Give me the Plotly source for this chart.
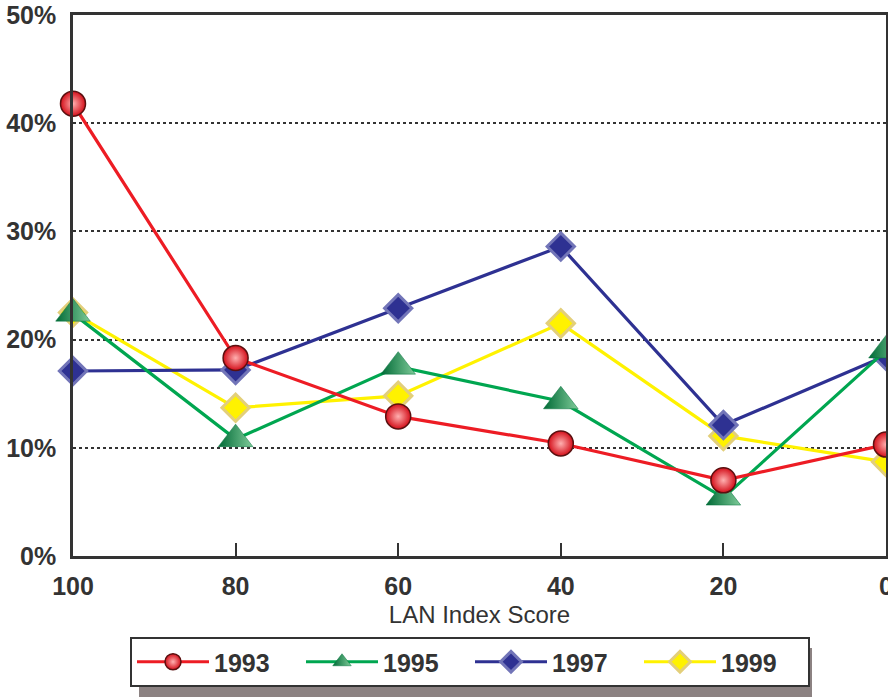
import plotly.graph_objects as go

# LAN index score buckets (x axis runs from 100 down to 0)
scores = [100, 80, 60, 40, 20, 0]

# Share of respondents in each bucket, percent
pct_1993 = [41.8, 18.3, 12.9, 10.4, 7.0, 10.3]
pct_1995 = [22.4, 10.8, 17.5, 14.3, 5.4, 19.0]
pct_1997 = [17.1, 17.2, 22.9, 28.6, 12.1, 18.5]
pct_1999 = [22.5, 13.7, 14.8, 21.5, 11.1, 8.7]

years = ["1993", "1995", "1997", "1999"]

styles = {
    "1993": dict(line="#ed1c24", symbol="circle", size=25, fill="#d40f1a",
                 grad="radial", gcol="#ffb0b0", edge="#5a1010", ew=1.5),
    "1995": dict(line="#00a650", symbol="triangle-up", size=30, fill="#006a36",
                 grad="horizontal", gcol="#7fcb99", edge="#00703a", ew=0.5),
    "1997": dict(line="#2e3192", symbol="diamond", size=21, fill="#2e3192",
                 grad="none", gcol="#2e3192", edge="#7275b8", ew=3),
    "1999": dict(line="#fff200", symbol="diamond", size=21, fill="#fff200",
                 grad="none", gcol="#fff200", edge="#e3cf7a", ew=3),
}
series = {"1993": pct_1993, "1995": pct_1995, "1997": pct_1997, "1999": pct_1999}

FONT = "Liberation Sans, Arial, sans-serif"

fig = go.Figure()
# later years first so the 1993 series sits on top
for yr in reversed(years):
    s = styles[yr]
    fig.add_trace(go.Scatter(
        x=scores, y=series[yr], name=yr, mode="lines+markers",
        line=dict(color=s["line"], width=3.2),
        marker=dict(symbol=s["symbol"], size=s["size"], color=s["fill"],
                    gradient=dict(type=s["grad"], color=s["gcol"]),
                    line=dict(color=s["edge"], width=s["ew"])),
        cliponaxis=False,
    ))

W, H = 888, 697
ml, mr, mt, mb = 73, 2, 15, 141
pw, ph = W - ml - mr, H - mt - mb

def px_x(p):
    return (p - ml) / pw

def px_y(p):
    return (H - mb - p) / ph

# drop shadow behind the legend box
fig.add_shape(type="rect", xref="paper", yref="paper",
              x0=px_x(139), x1=px_x(812), y0=px_y(697), y1=px_y(648),
              fillcolor="#8c8282", line=dict(width=0), layer="below")

fig.update_layout(
    width=W, height=H,
    margin=dict(l=ml, r=mr, t=mt, b=mb, autoexpand=False),
    paper_bgcolor="white", plot_bgcolor="white",
    font=dict(family=FONT, color="#333333"),
    showlegend=True,
    legend=dict(orientation="h", traceorder="reversed",
                x=px_x(130), xanchor="left", y=px_y(637), yanchor="top",
                bgcolor="white", bordercolor="#333333", borderwidth=2,
                font=dict(size=25, color="#333333", family=FONT, weight="bold"),
                entrywidth=82, itemwidth=72),
    xaxis=dict(range=[100, 0], tickvals=scores, ticktext=[str(v) for v in scores],
               ticks="inside", ticklen=13, tickwidth=2, tickcolor="#333333",
               showline=True, linecolor="#333333", linewidth=2.5, mirror=True,
               showgrid=False, zeroline=False, ticklabelstandoff=6,
               ticklabeloverflow="allow",
               tickfont=dict(size=25, family=FONT, weight="bold"),
               title=dict(text="LAN Index Score", font=dict(size=24, color="#333333", family=FONT),
                          standoff=8)),
    yaxis=dict(range=[0, 50], tickvals=[0, 10, 20, 30, 40, 50],
               ticktext=["0%", "10%", "20%", "30%", "40%", "50%"],
               ticks="", showline=True, linecolor="#333333", linewidth=2.5, mirror=True,
               showgrid=True, gridcolor="#333333", gridwidth=1.5, griddash="dot",
               zeroline=False, ticklabelstandoff=9, ticklabeloverflow="allow",
               tickfont=dict(size=25, family=FONT, weight="bold")),
)

fig.write_html("out.html")
